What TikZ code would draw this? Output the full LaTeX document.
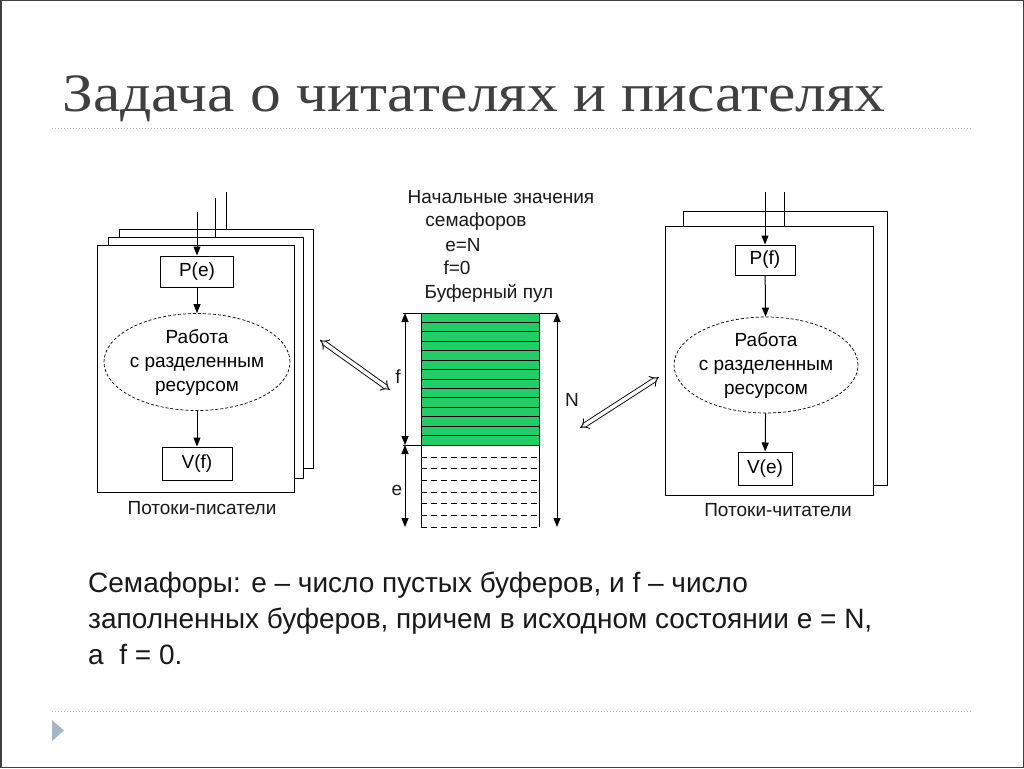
\documentclass[tikz,border=0pt]{standalone}
\usepackage{fontspec}
\setmainfont{Liberation Sans}
\newfontfamily\titlefont[FakeStretch=1.14]{Liberation Serif}
\usetikzlibrary{arrows.meta, shapes.geometric}
\definecolor{bufgreen}{RGB}{34,204,102}
\definecolor{titlegray}{RGB}{64,64,64}
\definecolor{rulegray}{RGB}{185,185,185}
\definecolor{bullet}{RGB}{165,182,200}

\begin{document}
\begin{tikzpicture}[x=1pt, y=-1pt,
    page/.style={draw, fill=white, line width=1pt},
    opbox/.style={draw, line width=1pt, inner sep=0pt, font=\fontsize{19}{19}\selectfont},
    work/.style={ellipse, draw, densely dashed, line width=0.7pt, inner xsep=-5pt, inner ysep=0pt, align=center, font=\fontsize{19}{24}\selectfont},
    flow/.style={line width=1pt, -{Triangle[length=9pt,width=7pt]}},
    dim/.style={line width=1pt, {Triangle[length=9pt,width=7pt]}-{Triangle[length=9pt,width=7pt]}},
    link/.style={double, double distance=3.5pt, line width=0.9pt, {Implies}-{Implies}},
    lbl/.style={font=\fontsize{19}{19}\selectfont, text=black!90}]
    \useasboundingbox (0,0) rectangle (1024,768);
    \fill[white] (0,0) rectangle (1024,768);
    \draw[black!75, line width=1.5pt] (0.75,0.75) rectangle (1023.25,767.25);

    \node[anchor=base west, text=titlegray, inner sep=0pt] (title) at (62,111) {\titlefont\fontsize{54}{54}\selectfont Задача о читателях и писателях};
    \draw[rulegray, dotted, line width=1pt] (52,128) -- (973,128);
    \draw[rulegray, dotted, line width=1pt] (52,711) -- (973,711);
    \fill[bullet] (52,720) -- (64,730.5) -- (52,741) -- cycle;

    \coordinate (W1) at (197,212);
    \coordinate (W2) at (215,198);
    \coordinate (W3) at (226,192);
    \draw[line width=1pt] (W3) -- (226,229);
    \draw[page] (119,229) rectangle (313,468);
    \draw[line width=1pt] (W2) -- (215,237);
    \draw[page] (108,237) rectangle (303,478);
    \draw[page] (97,245) rectangle (294,492);

    \node[opbox, minimum width=73pt, minimum height=31pt] (Pe) at (197,271.5) {P(e)};
    \node[work, minimum width=186pt, minimum height=97pt] (wwork) at (197,362) {Работа\\с разделенным\\ресурсом};
    \node[opbox, minimum width=70pt, minimum height=33pt] (Vf) at (197,463.5) {V(f)};
    \draw[flow] (W1) -- (Pe);
    \draw[flow] (Pe) -- (wwork);
    \draw[flow] (wwork) -- (Vf);
    \node[lbl] (writers) at (202,508) {Потоки-писатели};

    \coordinate (R1) at (765,192);
    \coordinate (R2) at (784,192);
    \draw[page] (683,211) rectangle (887,485);
    \draw[line width=1pt] (R2) -- (784,226);
    \draw[page] (665,226) rectangle (873,495);

    \node[opbox, minimum width=60pt, minimum height=30pt] (Pf) at (765,260) {P(f)};
    \node[work, minimum width=184pt, minimum height=96pt] (rwork) at (766,365) {Работа\\с разделенным\\ресурсом};
    \node[opbox, minimum width=54pt, minimum height=33pt] (Ve) at (765,468.5) {V(e)};
    \draw[flow] (R1) -- (Pf);
    \draw[flow] (Pf) -- (rwork);
    \draw[flow] (rwork) -- (Ve);
    \node[lbl] (readers) at (778,510) {Потоки-читатели};

    \node[lbl] at (501,197) {Начальные значения};
    \node[lbl] at (476,222) {семафоров};
    \node[lbl] at (463,245) {e=N};
    \node[lbl] at (457,268) {f=0};
    \node[lbl] at (489,293) {Буферный пул};

    \fill[bufgreen] (421,313) rectangle (539,445);
    \foreach \i in {1,...,13}
        \draw[line width=1pt] (421,{313+\i*9.43}) -- (539,{313+\i*9.43});
    \foreach \i in {0,...,6}
        \draw[line width=1pt, dash pattern=on 6pt off 4pt] (421,{457+\i*11.67}) -- (539,{457+\i*11.67});
    \draw[line width=1pt] (403,313) -- (557,313);
    \draw[line width=1pt] (403,445) -- (539,445);
    \draw[line width=1pt] (421,313) -- (421,527);
    \draw[line width=1pt] (539,313) -- (539,527);

    \coordinate (ftop) at (405,313);
    \coordinate (fbot) at (405,445);
    \coordinate (ebot) at (405,527);
    \coordinate (ntop) at (557,313);
    \coordinate (nbot) at (557,527);
    \draw[dim] (ftop) -- (fbot);
    \draw[dim] (fbot) -- (ebot);
    \draw[dim] (ntop) -- (nbot);
    \node[lbl] at (398,377) {f};
    \node[lbl] at (397,490) {e};
    \node[lbl] at (572,400) {N};

    \coordinate (wlink) at (320,340);
    \coordinate (plinkL) at (390,390);
    \coordinate (plinkR) at (580,428);
    \coordinate (rlink) at (659,377);
    \draw[link] (wlink) -- (plinkL);
    \draw[link] (plinkR) -- (rlink);

    \node[anchor=north west, align=left, inner sep=0pt, font=\fontsize{28}{36}\selectfont, text=black!90] (note) at (88,572)
        {Семафоры: е – число пустых буферов, и f – число\\заполненных буферов, причем в исходном состоянии е = N,\\а\ \ f = 0.};
\end{tikzpicture}
\end{document}
